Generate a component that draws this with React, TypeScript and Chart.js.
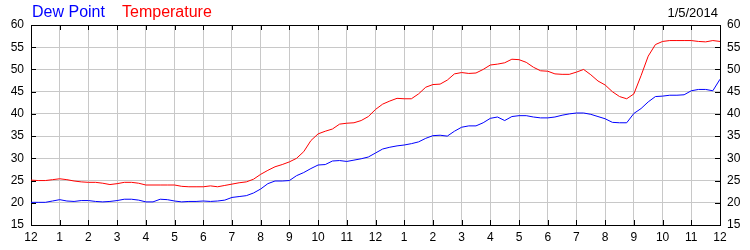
import React, { useEffect, useRef } from "react";
import { Chart, registerables } from "chart.js";

Chart.register(...registerables);

// Hour tick labels (midnight to midnight)
const hourLabels = ["12", "1", "2", "3", "4", "5", "6", "7", "8", "9", "10", "11", "12", "1", "2", "3", "4", "5", "6", "7", "8", "9", "10", "11", "12"];

// Samples every 15 minutes, 0:00 -> 24:00
const STEP_HOURS = 0.25;

const temperature = [
  25.1, 25.0, 25.0, 25.2, 25.4, 25.2, 24.9, 24.7,
  24.6, 24.6, 24.4, 24.1, 24.3, 24.6, 24.6, 24.4,
  24.0, 24.0, 24.0, 24.0, 24.0, 23.7, 23.6, 23.6,
  23.6, 23.8, 23.6, 23.9, 24.2, 24.5, 24.7, 25.3,
  26.4, 27.3, 28.1, 28.6, 29.2, 30.0, 31.5, 34.0,
  35.5, 36.1, 36.6, 37.7, 37.9, 38.0, 38.5, 39.4,
  41.0, 42.2, 42.9, 43.5, 43.4, 43.4, 44.5, 46.0,
  46.6, 46.7, 47.6, 49.0, 49.3, 49.1, 49.2, 50.0,
  51.0, 51.2, 51.5, 52.3, 52.2, 51.6, 50.5, 49.7,
  49.6, 49.0, 48.9, 48.9, 49.4, 50.0, 48.8, 47.4,
  46.5, 45.0, 43.9, 43.4, 44.5, 48.6, 53.0, 55.6,
  56.3, 56.5, 56.5, 56.5, 56.5, 56.3, 56.2, 56.5,
  56.3,
];

const dewPoint = [
  20.1, 20.1, 20.1, 20.4, 20.7, 20.4, 20.3, 20.5,
  20.5, 20.3, 20.2, 20.3, 20.5, 20.8, 20.8, 20.6,
  20.2, 20.2, 20.8, 20.7, 20.4, 20.2, 20.3, 20.3,
  20.4, 20.3, 20.4, 20.6, 21.2, 21.4, 21.6, 22.2,
  23.1, 24.3, 24.9, 24.9, 25.0, 26.1, 26.8, 27.7,
  28.5, 28.6, 29.4, 29.5, 29.3, 29.6, 29.9, 30.3,
  31.2, 32.1, 32.5, 32.8, 33.0, 33.3, 33.7, 34.5,
  35.1, 35.2, 35.0, 36.1, 37.0, 37.3, 37.3, 38.0,
  39.0, 39.3, 38.5, 39.4, 39.6, 39.6, 39.3, 39.1,
  39.1, 39.3, 39.7, 40.0, 40.2, 40.2, 39.9, 39.4,
  38.9, 38.1, 38.0, 38.0, 40.1, 41.2, 42.7, 43.9,
  44.0, 44.2, 44.2, 44.3, 45.2, 45.5, 45.5, 45.2,
  47.8,
];

const yMin = 15;
const yMax = 60;
const yStep = 5;
const dateLabel = "1/5/2014";
const seriesNames = ["Dew Point", "Temperature"];

const FONT = "'Liberation Sans', Arial, sans-serif";

export default function App() {
  const ref = useRef<HTMLCanvasElement | null>(null);

  useEffect(() => {
    if (!ref.current) return;
    const toPoints = (arr: number[]) => arr.map((v, i) => ({ x: i * STEP_HOURS, y: v }));

    const framePlugin = {
      id: "frame",
      afterDraw(chart: any) {
        const { ctx, chartArea } = chart;
        const { left, right, top, bottom } = chartArea;
        const xs = chart.scales.x;
        const ys = chart.scales.y;
        ctx.save();
        ctx.strokeStyle = "#000";
        ctx.lineWidth = 1;
        ctx.beginPath();
        // top border
        ctx.moveTo(left, Math.round(top) + 0.5);
        ctx.lineTo(right + 1, Math.round(top) + 0.5);
        // inward ticks on x
        xs.ticks.forEach((t: any) => {
          const px = Math.round(xs.getPixelForValue(t.value)) + 0.5;
          ctx.moveTo(px, top);
          ctx.lineTo(px, top + 5);
          ctx.moveTo(px, bottom);
          ctx.lineTo(px, bottom - 5);
        });
        ys.ticks.forEach((t: any) => {
          const py = Math.round(ys.getPixelForValue(t.value)) + 0.5;
          ctx.moveTo(left, py);
          ctx.lineTo(left + 5, py);
          ctx.moveTo(right, py);
          ctx.lineTo(right - 5, py);
        });
        ctx.stroke();

        // header texts
        ctx.textBaseline = "alphabetic";
        ctx.font = `16px ${FONT}`;
        ctx.textAlign = "left";
        ctx.fillStyle = "#0000ff";
        ctx.fillText(seriesNames[0], 32, 17);
        ctx.fillStyle = "#ff0000";
        ctx.fillText(seriesNames[1], 122, 17);
        ctx.font = `13px ${FONT}`;
        ctx.fillStyle = "#000";
        ctx.textAlign = "right";
        ctx.fillText(dateLabel, 718, 17);
        ctx.restore();
      },
    };

    const tickFont = { family: FONT, size: 12 };

    const chart = new Chart(ref.current, {
      type: "line",
      data: {
        datasets: [
          {
            label: seriesNames[0],
            data: toPoints(dewPoint),
            borderColor: "#0000ff",
            borderWidth: 1,
            pointRadius: 0,
            tension: 0,
            yAxisID: "y",
          },
          {
            label: seriesNames[1],
            data: toPoints(temperature),
            borderColor: "#ff0000",
            borderWidth: 1,
            pointRadius: 0,
            tension: 0,
            yAxisID: "y",
          },
        ],
      },
      options: {
        animation: false,
        responsive: false,
        events: [],
        layout: { padding: { top: 25, left: 0, right: 0, bottom: 0 } },
        plugins: {
          legend: { display: false },
          title: { display: false },
          tooltip: { enabled: false },
        },
        scales: {
          x: {
            type: "linear",
            position: "bottom",
            min: 0,
            max: 24,
            afterFit: (s: any) => {
              s.height = 25;
            },
            ticks: {
              stepSize: 1,
              autoSkip: false,
              maxRotation: 0,
              padding: 5,
              color: "#000",
              font: tickFont,
              callback: (v: any) => hourLabels[Math.round(Number(v))] ?? "",
            },
            grid: { color: "#c8c8c8", drawTicks: false },
            border: { color: "#000", width: 1 },
          },
          y: {
            position: "left",
            min: yMin,
            max: yMax,
            afterFit: (s: any) => {
              s.width = 31;
            },
            ticks: { stepSize: yStep, padding: 7, color: "#000", font: tickFont },
            grid: { color: "#c8c8c8", drawTicks: false },
            border: { color: "#000", width: 1 },
          },
          y2: {
            position: "right",
            min: yMin,
            max: yMax,
            afterFit: (s: any) => {
              s.width = 30;
            },
            ticks: { stepSize: yStep, padding: 7, color: "#000", font: tickFont },
            grid: { display: false, drawTicks: false },
            border: { color: "#000", width: 1 },
          },
        },
      },
      plugins: [framePlugin],
    });
    return () => chart.destroy();
  }, []);

  return (
    <div style={{ position: "absolute", left: 0, top: 0, width: 750, height: 250, background: "#fff" }}>
      <canvas ref={ref} width={750} height={250} style={{ display: "block" }} />
    </div>
  );
}
